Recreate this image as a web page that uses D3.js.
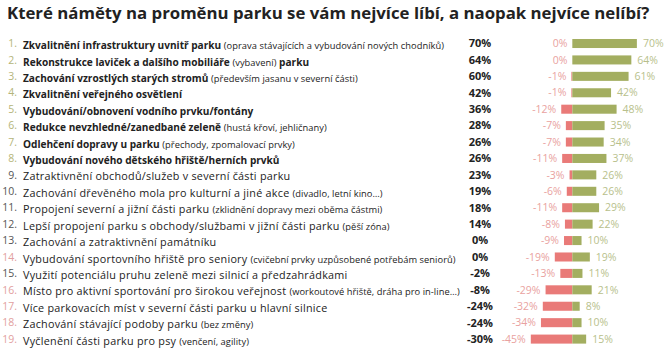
<!DOCTYPE html>
<html>
<head>
<meta charset="utf-8">
<script src="https://cdn.jsdelivr.net/npm/d3@7"></script>
<style>
  body { margin: 0; background: #fff; }
  svg { display: block; font-family: "Open Sans", "Noto Sans", sans-serif; }
</style>
</head>
<body>
<svg id="chart" width="670" height="349"></svg>
<script>
// survey items, top to bottom
const labels = [
  "Zkvalitnění infrastruktury uvnitř parku (oprava stávajících a vybudování nových chodníků)",
  "Rekonstrukce laviček a dalšího mobiliáře (vybavení) parku",
  "Zachování vzrostlých starých stromů (především jasanu v severní části)",
  "Zkvalitnění veřejného osvětlení",
  "Vybudování/obnovení vodního prvku/fontány",
  "Redukce nevzhledné/zanedbané zeleně (hustá křoví, jehličnany)",
  "Odlehčení dopravy u parku (přechody, zpomalovací prvky)",
  "Vybudování nového dětského hřiště/herních prvků",
  "Zatraktivnění obchodů/služeb v severní části parku",
  "Zachování dřevěného mola pro kulturní a jiné akce (divadlo, letní kino…)",
  "Propojení severní a jižní části parku (zklidnění dopravy mezi oběma částmi)",
  "Lepší propojení parku s obchody/službami v jižní části parku (pěší zóna)",
  "Zachování a zatraktivnění památníku",
  "Vybudování sportovního hřiště pro seniory (cvičební prvky uzpůsobené potřebám seniorů)",
  "Využití potenciálu pruhu zeleně mezi silnicí a předzahrádkami",
  "Místo pro aktivní sportování pro širokou veřejnost (workoutové hřiště, dráha pro in-line…)",
  "Více parkovacích míst v severní části parku u hlavní silnice",
  "Zachování stávající podoby parku (bez změny)",
  "Vyčlenění části parku pro psy (venčení, agility)"
]
const netValues = [70, 64, 60, 42, 36, 28, 26, 26, 23, 19, 18, 14, 0, 0, -2, -8, -24, -24, -30]
const dislikeValues = [0, 0, -1, -1, -12, -7, -7, -11, -3, -6, -11, -8, -9, -19, -13, -29, -32, -34, -45]
const likeValues = [70, 64, 61, 42, 48, 35, 34, 37, 26, 26, 29, 22, 10, 19, 11, 21, 8, 10, 15]
// which group the row number belongs to (top / neutral / bottom)
const groups = ["top", "top", "top", "top", "top", "top", "top", "top",
  "mid", "mid", "mid", "mid", "mid", "low", "mid", "low", "low", "low", "low"]

const title = "Které náměty na proměnu parku se vám nejvíce líbí, a naopak nejvíce nelíbí?"

const colors = {
  like: "#a3ae60",
  dislike: "#e97a78",
  likeText: "#b8bf8c",
  dislikeText: "#e9a2a0",
  num: { top: "#b4b57a", mid: "#555", low: "#e2a0a0" }
}

const rows = labels.map((label, i) => ({
  i, label,
  net: netValues[i],
  neg: dislikeValues[i],
  pos: likeValues[i],
  group: groups[i],
  bold: i < 8
}))

const svg = d3.select("#chart")

svg.append("text")
  .attr("x", 7).attr("y", 19)
  .attr("font-size", 16.8).attr("font-weight", 700).attr("fill", "#222")
  .text(title)

const y = d3.scaleBand()
  .domain(rows.map(d => d.i))
  .range([35.3, 347.3])
  .paddingInner(0.45)
  .paddingOuter(0.225)

const x = d3.scaleLinear()
  .domain([-50, 80])
  .range([526.2, 646.1])

const row = svg.append("g").selectAll("g.row")
  .data(rows)
  .join("g")
  .attr("class", "row")
  .attr("transform", d => `translate(0,${y(d.i) + y.bandwidth() / 2})`)

// row numbers
row.append("text")
  .attr("x", 17).attr("dy", "0.35em")
  .attr("text-anchor", "end")
  .attr("font-size", 10.5)
  .attr("fill", d => colors.num[d.group])
  .text(d => (d.i + 1) + ".")

// label, parenthetical parts in smaller normal weight
const lab = row.append("text")
  .attr("x", 23).attr("dy", "0.35em")
  .attr("fill", "#222")

lab.selectAll("tspan")
  .data(d => d.label.split(/(\([^)]*\))/).filter(s => s.length)
    .map(s => ({ s, paren: s.startsWith("("), bold: d.bold })))
  .join("tspan")
  .attr("font-size", p => p.paren ? 9.3 : (p.bold ? 10.1 : 10.8))
  .attr("letter-spacing", p => p.paren ? 0.05 : (p.bold ? 0 : 0.25))
  .attr("font-weight", p => (p.bold && !p.paren) ? 700 : 400)
  .text(p => p.s)

// net value column
row.append("text")
  .attr("x", 480).attr("dy", "0.35em")
  .attr("text-anchor", "middle")
  .attr("font-size", 11).attr("font-weight", 700).attr("fill", "#222")
  .text(d => d.net + "%")

const h = y.bandwidth()

row.append("rect")
  .attr("x", d => x(d.neg)).attr("y", -h / 2)
  .attr("width", d => x(0) - x(d.neg)).attr("height", h)
  .attr("fill", colors.dislike)

row.append("rect")
  .attr("x", x(0)).attr("y", -h / 2)
  .attr("width", d => x(d.pos) - x(0)).attr("height", h)
  .attr("fill", colors.like)

row.append("text")
  .attr("x", d => x(d.neg) - 5).attr("dy", "0.35em")
  .attr("text-anchor", "end")
  .attr("font-size", 10.5).attr("fill", colors.dislikeText)
  .text(d => d.neg + "%")

row.append("text")
  .attr("x", d => x(d.pos) + 6).attr("dy", "0.35em")
  .attr("font-size", 10.5).attr("fill", colors.likeText)
  .text(d => d.pos + "%")
</script>
</body>
</html>
